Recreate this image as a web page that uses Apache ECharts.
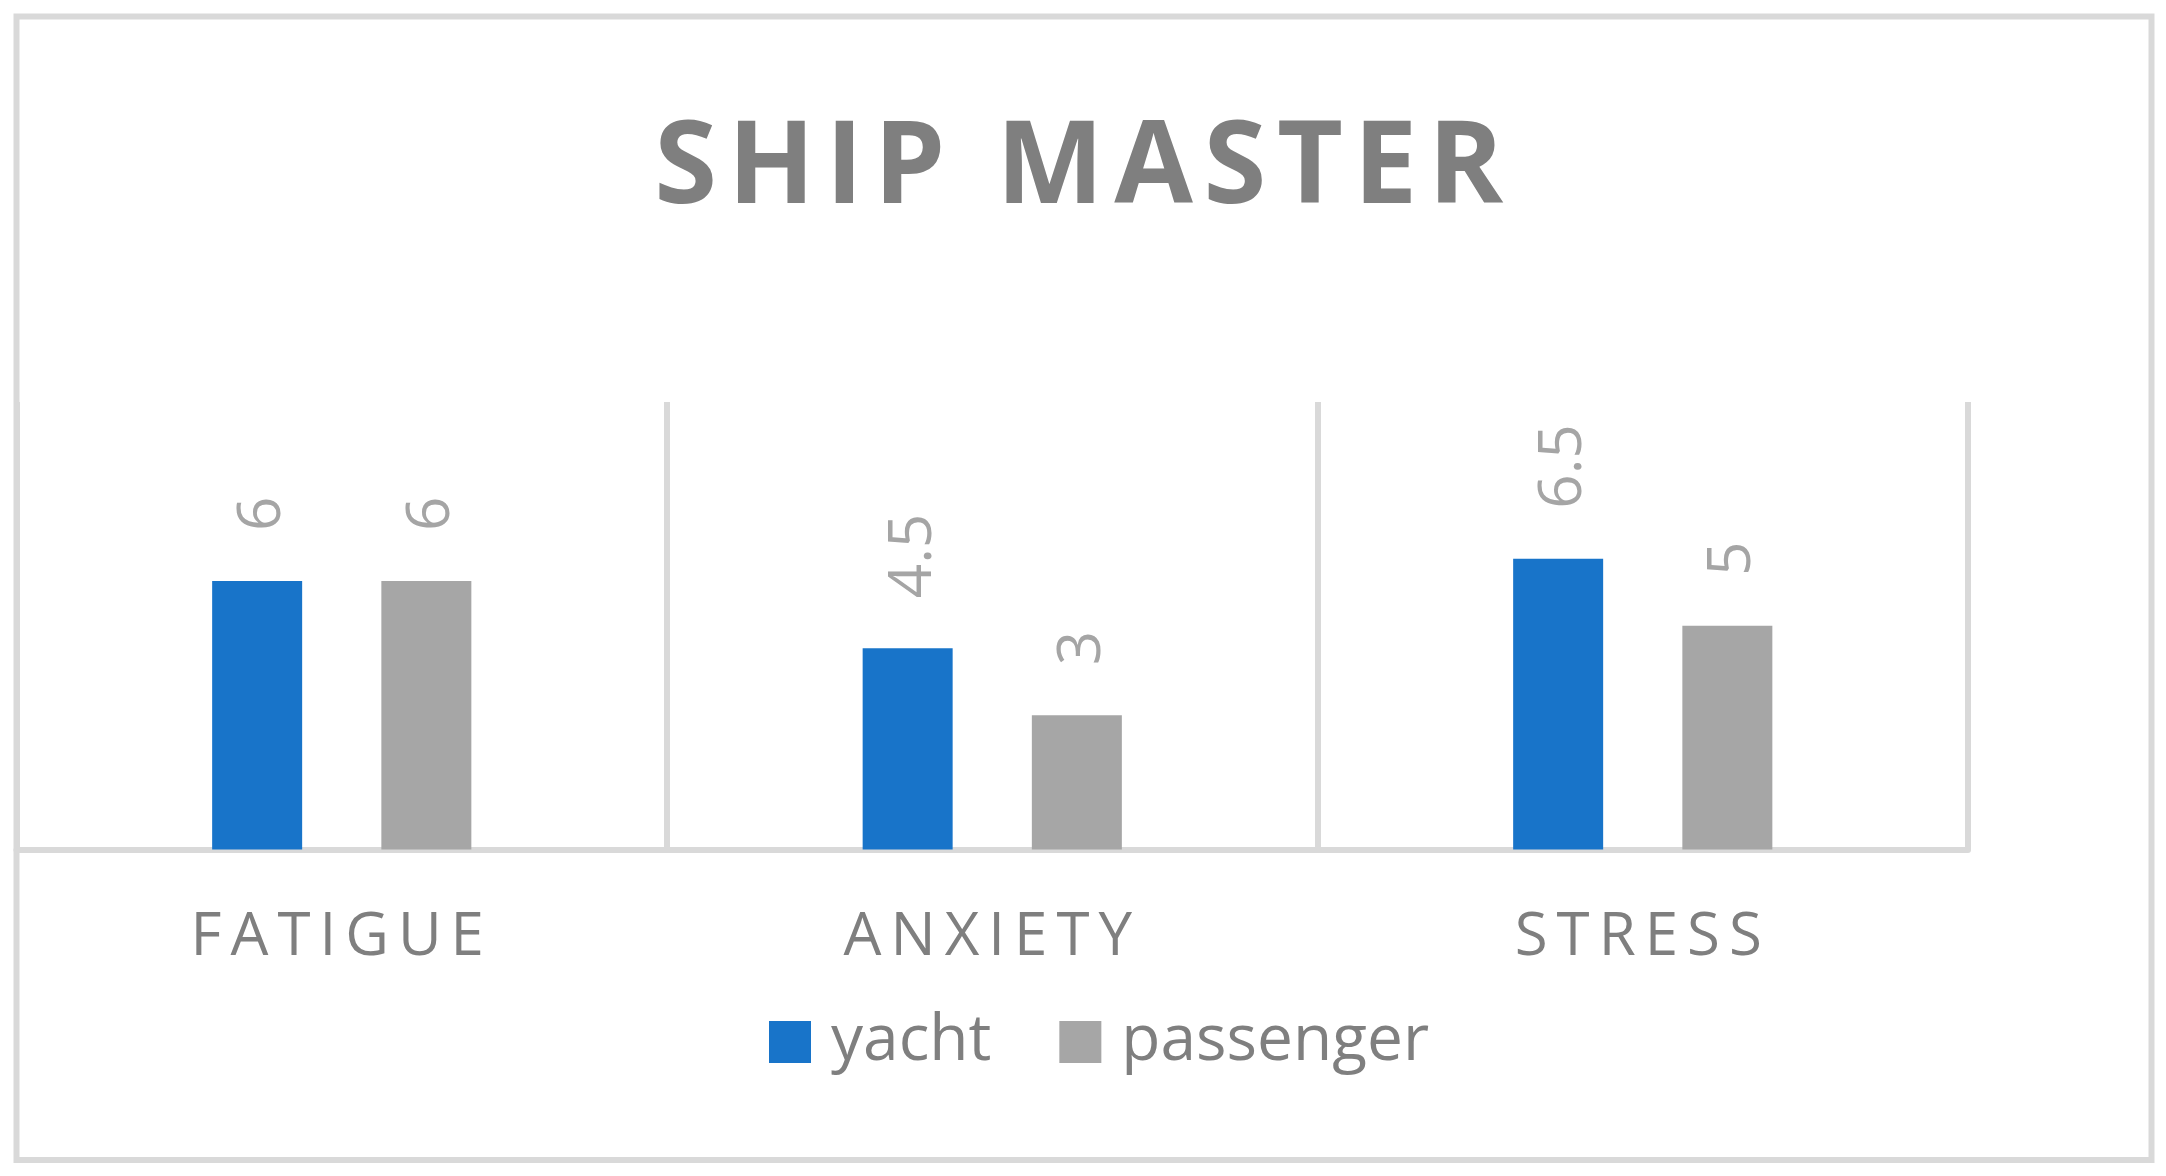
<!DOCTYPE html>
<html>
<head>
<meta charset="utf-8">
<title>SHIP MASTER</title>
<script src="https://cdn.jsdelivr.net/npm/echarts@6/dist/echarts.min.js"></script>
<style>
  html, body { margin: 0; padding: 0; background: #fff; }
  #main { width: 2166px; height: 1176px; }
</style>
</head>
<body>
<div id="main"></div>
<script>
  // data
  const categories = ['FATIGUE', 'ANXIETY', 'STRESS'];
  const seriesNames = ['yacht', 'passenger'];
  const yacht = [6, 4.5, 6.5];
  const passenger = [6, 3, 5];

  const FONT = "'Open Sans', 'Noto Sans', sans-serif";
  const GRID_LINE = '#d9d9d9';
  const TEXT = '#7f7f7f';

  // letter spacing via one rich token per character
  function spaced(str, key) {
    return str.split('').map(function (c) { return '{' + key + '|' + c + '}'; }).join('');
  }

  // rotated labels: offset is in the label's own (rotated) frame
  const valueLabel = {
    show: true, position: 'top', distance: 50, rotate: 90, align: 'left', verticalAlign: 'middle',
    offset: [0, 6],
    fontFamily: FONT, fontSize: 60, color: '#a5a5a5'
  };

  const chart = echarts.init(document.getElementById('main'));
  chart.setOption({
    animation: false,
    backgroundColor: '#fff',
    title: {
      text: spaced('SHIP MASTER', 't'),
      left: 644,
      top: 109,
      textStyle: {
        rich: {
          t: { fontFamily: FONT, fontSize: 114, fontWeight: 'bold', color: TEXT, padding: [0, 5.3, 0, 5.3] }
        }
      }
    },
    legend: {
      data: seriesNames,
      left: 769,
      top: 1010,
      padding: 0,
      itemWidth: 42,
      itemHeight: 42,
      itemGap: 68,
      icon: 'rect',
      textStyle: { fontFamily: FONT, fontSize: 64, color: TEXT, padding: [0, 0, 0, 15] }
    },
    grid: { left: 16.5, right: 198, top: 402, bottom: 326.5, containLabel: false },
    xAxis: {
      type: 'category',
      data: categories,
      axisTick: { show: false },
      axisLine: { lineStyle: { color: GRID_LINE, width: 6 } },
      splitLine: { show: true, lineStyle: { color: GRID_LINE, width: 6 } },
      axisLabel: {
        interval: 0,
        margin: 58,
        formatter: function (v) { return spaced(v, 'c'); },
        rich: {
          c: { fontFamily: FONT, fontSize: 60, color: TEXT, padding: [0, 9, 0, 0] }
        }
      }
    },
    yAxis: {
      type: 'value',
      min: 0,
      max: 10,
      show: false,
      splitLine: { show: false }
    },
    series: [
      {
        name: seriesNames[0],
        type: 'bar',
        data: yacht,
        barWidth: 90,
        barGap: '88%',
        itemStyle: { color: '#1874C9' },
        label: valueLabel
      },
      {
        name: seriesNames[1],
        type: 'bar',
        data: passenger,
        barWidth: 90,
        barGap: '88%',
        itemStyle: { color: '#a6a6a6' },
        label: valueLabel
      }
    ],
    graphic: [
      {
        type: 'rect',
        silent: true,
        shape: { x: 16.5, y: 16.5, width: 2135, height: 1143.5 },
        style: { fill: null, stroke: GRID_LINE, lineWidth: 6 }
      }
    ]
  });
</script>
</body>
</html>
